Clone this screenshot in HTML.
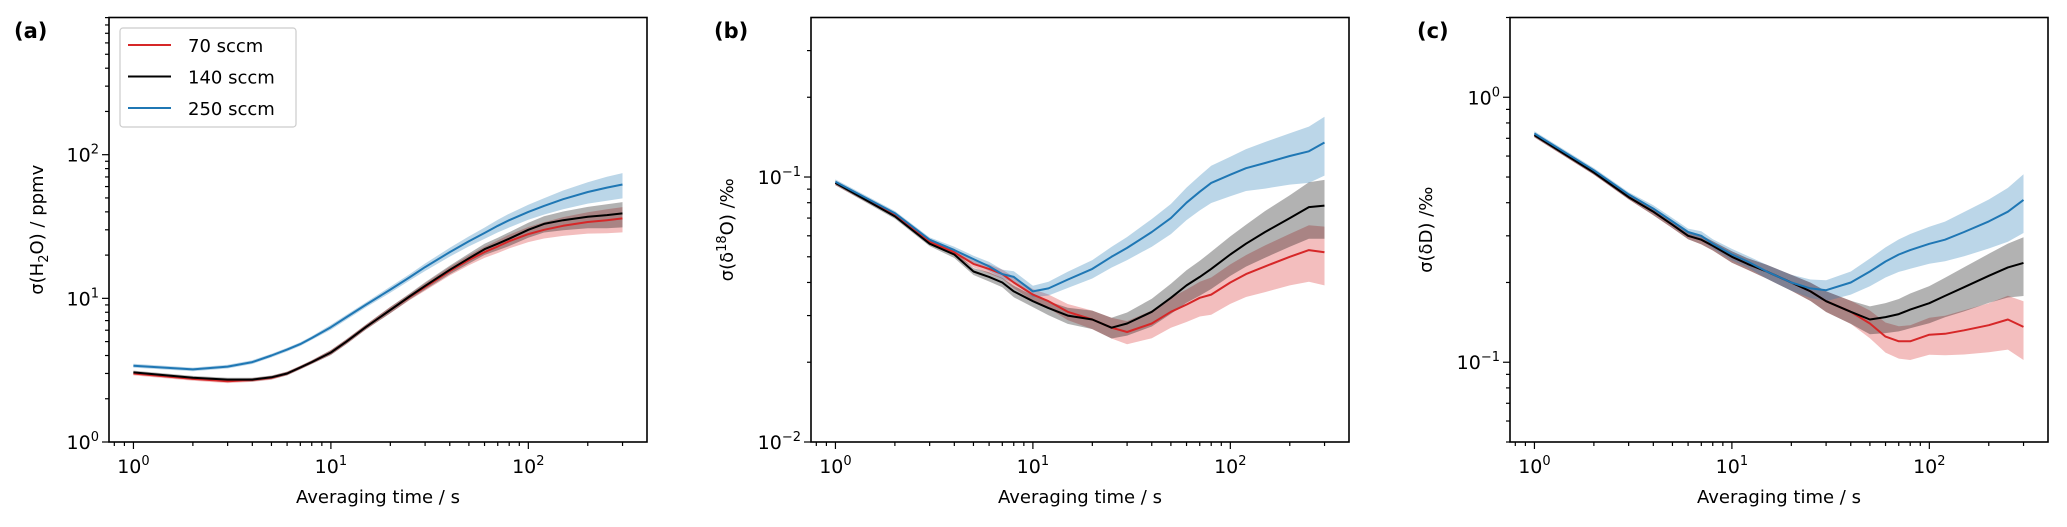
<!DOCTYPE html>
<html><head><meta charset="utf-8">
<style>
html,body{margin:0;padding:0;background:#fff;}
svg{display:block;font-family:"DejaVu Sans","Liberation Sans",sans-serif;}
</style></head>
<body>
<svg id="fig" width="2067" height="527" viewBox="0 0 2067 527" xmlns="http://www.w3.org/2000/svg"></svg>
<script>
// ---- data ----
const times = [1,2,3,4,5,6,7,8,10,12,15,20,25,30,40,50,60,70,80,100,120,150,200,250,300];
const seriesNames = ["70 sccm","140 sccm","250 sccm"];
// panel (a) sigma(H2O) ppmv
const h2o70  = [3.0,2.75,2.65,2.7,2.8,3.0,3.3,3.6,4.2,5.0,6.3,8.3,10.2,12,15.5,18.5,21,23,25,28,30,32,34,35,36];
const h2o140 = [3.05,2.8,2.72,2.72,2.82,3.0,3.3,3.6,4.2,5.0,6.3,8.3,10.3,12.2,15.8,19,22,24,26,30,33,35,37,38,39];
const h2o250 = [3.4,3.2,3.35,3.6,4.0,4.4,4.8,5.3,6.3,7.4,9.0,11.5,14,16.5,21,25,28.5,32,35,40,44,49,55,59,62];
// panel (b) sigma(d18O)
const o18_70  = [.095,.072,.057,.052,.047,.045,.043,.040,.036,.034,.031,.029,.027,.026,.028,.031,.033,.035,.036,.040,.043,.046,.050,.053,.052];
const o18_140 = [.095,.071,.056,.051,.044,.042,.040,.037,.034,.032,.030,.029,.027,.028,.031,.035,.039,.042,.045,.051,.056,.062,.070,.077,.078];
const o18_250 = [.096,.073,.058,.053,.049,.046,.043,.042,.037,.038,.041,.045,.050,.054,.062,.070,.080,.088,.095,.102,.108,.113,.120,.125,.135];
// panel (c) sigma(dD)
const dD70  = [.72,.52,.42,.37,.33,.30,.29,.275,.25,.235,.22,.20,.185,.17,.155,.14,.125,.12,.12,.127,.128,.132,.138,.145,.136];
const dD140 = [.72,.52,.42,.37,.33,.30,.29,.275,.25,.235,.22,.20,.185,.17,.155,.145,.148,.152,.158,.167,.178,.192,.212,.228,.237];
const dD250 = [.73,.53,.43,.38,.34,.31,.30,.28,.255,.24,.22,.20,.19,.187,.20,.22,.24,.255,.265,.28,.29,.31,.34,.37,.41];
// relative band half-widths
const bandA = [.03,.03,.03,.03,.03,.03,.03,.03,.04,.04,.04,.05,.05,.06,.07,.08,.09,.1,.11,.12,.13,.15,.17,.19,.2];
const bandB = [.02,.02,.02,.03,.03,.04,.04,.05,.05,.06,.07,.08,.09,.1,.12,.13,.14,.15,.16,.17,.18,.2,.22,.24,.25];
const bandC = [.02,.02,.02,.03,.03,.03,.04,.04,.05,.05,.06,.07,.08,.09,.1,.12,.13,.14,.15,.16,.17,.19,.21,.23,.25];

const NS="http://www.w3.org/2000/svg";
const svg=document.getElementById('fig');
const colors=["#d62728","#000000","#1f77b4"];
const bandColors=["rgba(214,39,40,0.3)","rgba(0,0,0,0.3)","rgba(31,119,180,0.3)"];
function mk(tag,attrs,parent){const e=document.createElementNS(NS,tag);for(const k in attrs)e.setAttribute(k,attrs[k]);(parent||svg).appendChild(e);return e;}

const TOP=17.5,BOT=442,W=538;
const XMIN=-0.1238,XMAX=2.601;

function panel(cfg){
  const g=mk('g',{});
  
  
  const L=cfg.left;
  const xs=v=>L+(Math.log10(v)-XMIN)/(XMAX-XMIN)*W;
  const ys=v=>BOT-(Math.log10(v)-cfg.ymin)/(cfg.ymax-cfg.ymin)*(BOT-TOP);
  // series
  cfg.series.forEach((s,i)=>{
    let up=times.map((t,k)=>xs(t).toFixed(1)+','+ys(s[k]*(1+cfg.band[k])).toFixed(1));
    let dn=times.map((t,k)=>xs(t).toFixed(1)+','+ys(s[k]*(1-cfg.band[k])).toFixed(1)).reverse();
    const b=mk('polygon',{points:up.concat(dn).join(' '),fill:bandColors[i],stroke:'none'},g);
    
    
  });
  cfg.series.forEach((s,i)=>{
    const p=mk('polyline',{points:times.map((t,k)=>xs(t).toFixed(1)+','+ys(s[k]).toFixed(1)).join(' '),fill:'none',stroke:colors[i],'stroke-width':2,'stroke-linejoin':'round'},g);
    
    
  });
  // frame
  const fr=mk('rect',{x:L,y:TOP,width:W,height:BOT-TOP,fill:'none',stroke:'#000','stroke-width':1.6},g);
  
  
  // x ticks
  for(let d=-1;d<=2;d++){for(let m=1;m<=9;m++){const v=m*Math.pow(10,d);const lv=Math.log10(v);if(lv<XMIN||lv>XMAX)continue;const x=xs(v);
    mk('line',{x1:x,x2:x,y1:BOT,y2:BOT+(m==1?7:4),stroke:'#000','stroke-width':1.2},g);
    if(m==1){const t=mk('text',{x:x,y:BOT+31,'font-size':19,'text-anchor':'middle'},g);
      
      
      t.innerHTML='10<tspan dy="-8" font-size="13">'+d+'</tspan>';}}}
  // y ticks
  for(let d=Math.floor(cfg.ymin)-1;d<=Math.ceil(cfg.ymax);d++){for(let m=1;m<=9;m++){const v=m*Math.pow(10,d);const lv=Math.log10(v);if(lv<cfg.ymin-1e-6||lv>cfg.ymax+1e-6)continue;const y=ys(v);
    mk('line',{x1:L,x2:L-(m==1?7:4),y1:y,y2:y,stroke:'#000','stroke-width':1.2},g);
    if(m==1){const t=mk('text',{x:L-10,y:y+7,'font-size':19,'text-anchor':'end'},g);
      
      
      t.innerHTML='10<tspan dy="-8" font-size="13">'+(d<0?'\u2212'+(-d):d)+'</tspan>';}}}
  const xl=mk('text',{x:L+W/2,y:503,'font-size':18,'text-anchor':'middle'},g);
  xl.textContent='Averaging time  /  s';
  
  
  const yl=mk('text',{transform:'translate('+cfg.ylx+','+((TOP+BOT)/2)+') rotate(-90)','font-size':18,'text-anchor':'middle'},g);
  yl.innerHTML=cfg.ylabel;
  
  
  const pl=mk('text',{x:cfg.plx,y:38,'font-size':21,'font-weight':'bold'},g);
  pl.textContent=cfg.tag;
  
  
}

panel({name:'panel-a-h2o',left:109,ymin:0,ymax:2.955,series:[h2o70,h2o140,h2o250],band:bandA,
  ylx:43,plx:14,tag:'(a)',ylabel:'σ(H<tspan font-size="13" dy="5">2</tspan><tspan dy="-5">O)  /  ppmv</tspan>'});
panel({name:'panel-b-d18o',left:811,ymin:-2,ymax:-0.398,series:[o18_70,o18_140,o18_250],band:bandB,
  ylx:733,plx:714,tag:'(b)',ylabel:'σ(δ<tspan font-size="13" dy="-7">18</tspan><tspan dy="7">O)  /‰</tspan>'});
panel({name:'panel-c-dd',left:1510,ymin:Math.log10(0.05),ymax:Math.log10(2),series:[dD70,dD140,dD250],band:bandC,
  ylx:1432,plx:1417,tag:'(c)',ylabel:'σ(δD)  /‰'});

// legend
const lg=mk('g',{});


mk('rect',{x:120,y:28,width:176,height:99,rx:3,fill:'#fff',stroke:'#ccc','stroke-width':1.2},lg);
seriesNames.forEach((n,i)=>{
  const y=45+i*31.5;
  const e=mk('g',{},lg);
  
  
  mk('line',{x1:128,x2:171,y1:y,y2:y,stroke:colors[i],'stroke-width':2},e);
  const t=mk('text',{x:188,y:y+7,'font-size':18},e);
  t.textContent=n;
});
</script>
</body></html>
